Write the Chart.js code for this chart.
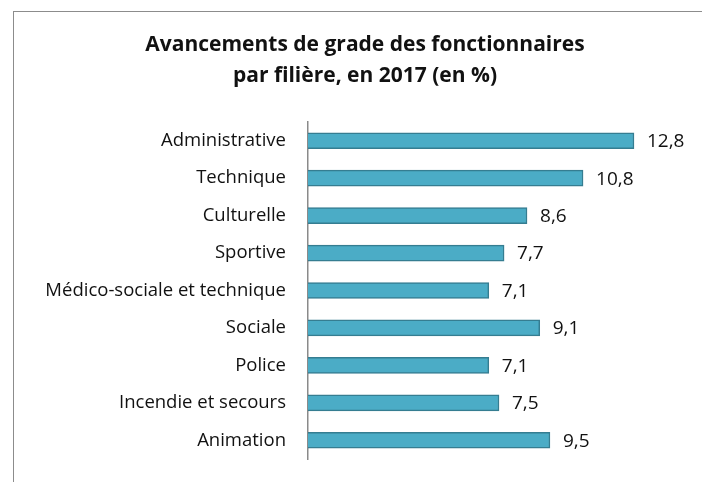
<!DOCTYPE html>
<html>
<head>
<meta charset="utf-8">
<script src="https://cdn.jsdelivr.net/npm/chart.js@4.4.0/dist/chart.umd.min.js"></script>
<style>
  body { margin: 0; background: #fff; }
  #frame { position: absolute; left: 13px; top: 11px; width: 700px; height: 480px;
           border-left: 1px solid #8c8c8c; border-top: 1px solid #8c8c8c; }
  #wrap { position: absolute; left: 0; top: 0; width: 702px; height: 482px; }
</style>
</head>
<body>
<div id="frame"></div>
<div id="wrap"><canvas id="graf"></canvas></div>
<script>
// filières et taux d'avancement (en %)
const filieres = [
  'Administrative',
  'Technique',
  'Culturelle',
  'Sportive',
  'Médico-sociale et technique',
  'Sociale',
  'Police',
  'Incendie et secours',
  'Animation'
];
const avancements = [12.8, 10.8, 8.6, 7.7, 7.1, 9.1, 7.1, 7.5, 9.5];
const titre = ['Avancements de grade des fonctionnaires', 'par filière, en 2017 (en %)'];

const couleurBarre = '#4bacc6';
const bordBarre = '#357d91';

// etiquettes de valeur a droite des barres
const etiquettes = {
  id: 'etiquettes',
  afterDatasetsDraw(chart) {
    const ctx = chart.ctx;
    const meta = chart.getDatasetMeta(0);
    ctx.save();
    ctx.font = '19px "Open Sans"';
    ctx.fillStyle = '#111';
    ctx.textBaseline = 'middle';
    ctx.textAlign = 'left';
    meta.data.forEach((bar, i) => {
      ctx.fillText(avancements[i].toFixed(1).replace('.', ','), bar.x + 13, bar.y + 1);
    });
    ctx.restore();
  }
};

let ctx = document.getElementById('graf');
let myChart = new Chart(ctx, {
  type: 'bar',
  data: {
    labels: filieres,
    datasets: [{
      data: avancements,
      backgroundColor: couleurBarre,
      borderColor: bordBarre,
      borderWidth: 1.5,
      borderSkipped: 'left',
      barThickness: 16
    }]
  },
  options: {
    indexAxis: 'y',
    responsive: true,
    maintainAspectRatio: false,
    animation: false,
    layout: { padding: { left: 40, right: 12, bottom: 23, top: 0 } },
    plugins: {
      legend: { display: false },
      tooltip: { enabled: false },
      title: {
        display: true,
        text: titre,
        color: '#111',
        font: { family: 'Open Sans', size: 21, weight: 'bold', lineHeight: 1.5 },
        padding: { top: 29, bottom: 30 }
      }
    },
    scales: {
      x: { display: false, min: 0, max: 15 },
      y: {
        afterFit(scale) {
          scale.width = 268;
          scale.paddingTop = 0;
          scale.paddingBottom = 0;
        },
        grid: { display: false, drawTicks: false },
        border: { display: true, color: '#8a8a8a', width: 1.5 },
        ticks: {
          padding: 22,
          color: '#111',
          font: { family: 'Open Sans', size: 18.5 }
        }
      }
    }
  },
  plugins: [etiquettes]
});
</script>
</body>
</html>
